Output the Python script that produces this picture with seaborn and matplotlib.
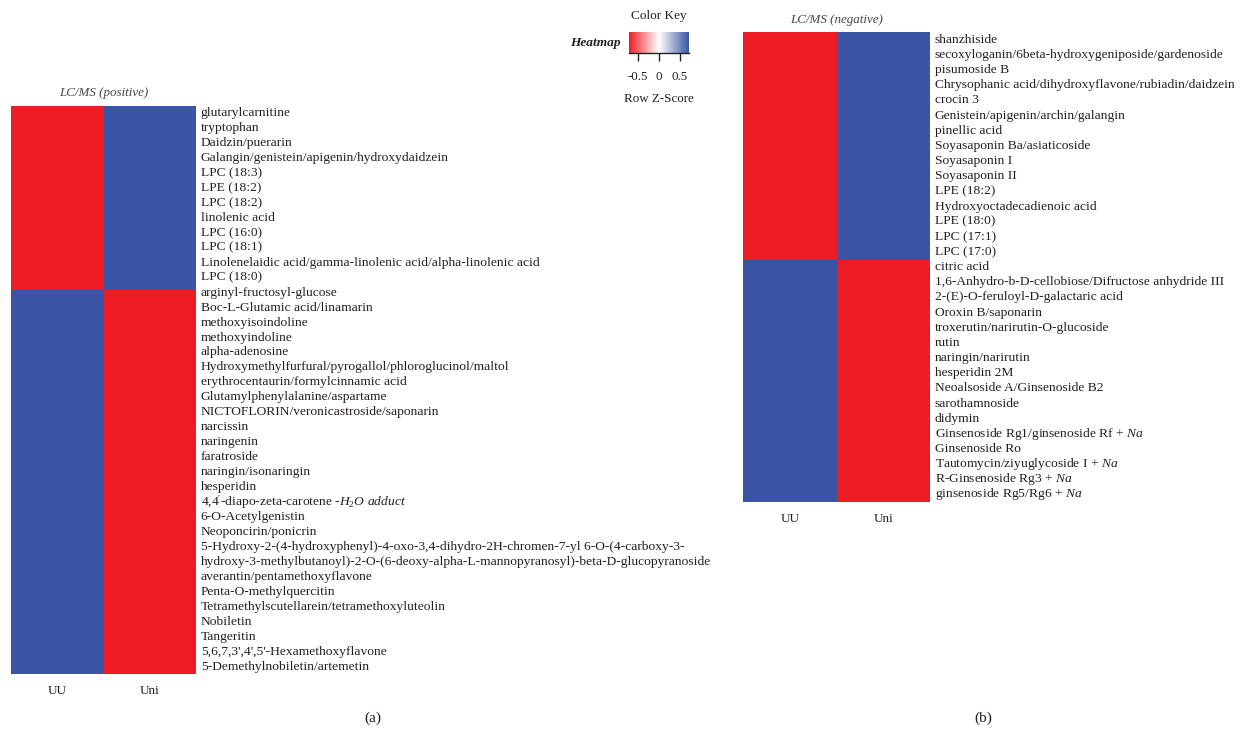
import numpy as np
import pandas as pd
import matplotlib
matplotlib.use("Agg")
import matplotlib.pyplot as plt
import seaborn as sns
from matplotlib.colors import LinearSegmentedColormap

sns.set_theme(style="white")
plt.rcParams["font.family"] = ["Liberation Serif", "DejaVu Serif"]
plt.rcParams["mathtext.fontset"] = "custom"
plt.rcParams["mathtext.rm"] = "Liberation Serif"
plt.rcParams["mathtext.it"] = "Liberation Serif:italic"
plt.rcParams["axes.unicode_minus"] = False

# ---- data: row z-scores per metabolite (UU vs Uni) ----
groups = ["UU", "Uni"]

pos_names = [
    "glutarylcarnitine", "tryptophan", "Daidzin/puerarin",
    "Galangin/genistein/apigenin/hydroxydaidzein", "LPC (18:3)", "LPE (18:2)",
    "LPC (18:2)", "linolenic acid", "LPC (16:0)", "LPC (18:1)",
    "Linolenelaidic acid/gamma-linolenic acid/alpha-linolenic acid", "LPC (18:0)",
    "arginyl-fructosyl-glucose", "Boc-L-Glutamic acid/linamarin",
    "methoxyisoindoline", "methoxyindoline", "alpha-adenosine",
    "Hydroxymethylfurfural/pyrogallol/phloroglucinol/maltol",
    "erythrocentaurin/formylcinnamic acid", "Glutamylphenylalanine/aspartame",
    "NICTOFLORIN/veronicastroside/saponarin", "narcissin", "naringenin",
    "faratroside", "naringin/isonaringin", "hesperidin",
    r"4,4$^{\prime}$-diapo-zeta-carotene -$H_2O$ $\mathit{adduct}$",
    "6-O-Acetylgenistin", "Neoponcirin/ponicrin",
    "5-Hydroxy-2-(4-hydroxyphenyl)-4-oxo-3,4-dihydro-2H-chromen-7-yl 6-O-(4-carboxy-3-\n"
    "hydroxy-3-methylbutanoyl)-2-O-(6-deoxy-alpha-L-mannopyranosyl)-beta-D-glucopyranoside",
    "averantin/pentamethoxyflavone", "Penta-O-methylquercitin",
    "Tetramethylscutellarein/tetramethoxyluteolin", "Nobiletin", "Tangeritin",
    "5,6,7,3',4',5'-Hexamethoxyflavone", "5-Demethylnobiletin/artemetin",
]
pos_uu = [-0.71, -0.71, -0.71, -0.71, -0.71, -0.71, -0.71, -0.71, -0.71, -0.71,
          -0.71, -0.71,
          0.71, 0.71, 0.71, 0.71, 0.71, 0.71, 0.71, 0.71, 0.71, 0.71,
          0.71, 0.71, 0.71, 0.71, 0.71, 0.71, 0.71, 0.71, 0.71, 0.71,
          0.71, 0.71, 0.71, 0.71, 0.71]
pos_uni = [0.71, 0.71, 0.71, 0.71, 0.71, 0.71, 0.71, 0.71, 0.71, 0.71,
           0.71, 0.71,
           -0.71, -0.71, -0.71, -0.71, -0.71, -0.71, -0.71, -0.71, -0.71, -0.71,
           -0.71, -0.71, -0.71, -0.71, -0.71, -0.71, -0.71, -0.71, -0.71, -0.71,
           -0.71, -0.71, -0.71, -0.71, -0.71]

neg_names = [
    "shanzhiside", "secoxyloganin/6beta-hydroxygeniposide/gardenoside",
    "pisumoside B", "Chrysophanic acid/dihydroxyflavone/rubiadin/daidzein",
    "crocin 3", "Genistein/apigenin/archin/galangin", "pinellic acid",
    "Soyasaponin Ba/asiaticoside", "Soyasaponin I", "Soyasaponin II",
    "LPE (18:2)", "Hydroxyoctadecadienoic acid", "LPE (18:0)", "LPC (17:1)",
    "LPC (17:0)", "citric acid",
    "1,6-Anhydro-b-D-cellobiose/Difructose anhydride III",
    "2-(E)-O-feruloyl-D-galactaric acid", "Oroxin B/saponarin",
    "troxerutin/narirutin-O-glucoside", "rutin", "naringin/narirutin",
    "hesperidin 2M", "Neoalsoside A/Ginsenoside B2", "sarothamnoside", "didymin",
    r"Ginsenoside Rg1/ginsenoside Rf + $\mathit{Na}$", "Ginsenoside Ro",
    r"Tautomycin/ziyuglycoside I + $\mathit{Na}$",
    r"R-Ginsenoside Rg3 + $\mathit{Na}$",
    r"ginsenoside Rg5/Rg6 + $\mathit{Na}$",
]
neg_uu = [-0.71, -0.71, -0.71, -0.71, -0.71, -0.71, -0.71, -0.71, -0.71, -0.71,
          -0.71, -0.71, -0.71, -0.71, -0.71,
          0.71, 0.71, 0.71, 0.71, 0.71, 0.71, 0.71, 0.71, 0.71, 0.71,
          0.71, 0.71, 0.71, 0.71, 0.71, 0.71]
neg_uni = [0.71, 0.71, 0.71, 0.71, 0.71, 0.71, 0.71, 0.71, 0.71, 0.71,
           0.71, 0.71, 0.71, 0.71, 0.71,
           -0.71, -0.71, -0.71, -0.71, -0.71, -0.71, -0.71, -0.71, -0.71, -0.71,
           -0.71, -0.71, -0.71, -0.71, -0.71, -0.71]

key_ticks = [-0.5, 0, 0.5]

# ---- styling ----
TEXT = "#231F20"
cmap = LinearSegmentedColormap.from_list("rwb", ["#ED1C24", "#FFFFFF", "#3953A4"])
VMIN, VMAX = -0.71, 0.72
LABEL_FS = 9.7

W, H = 1247, 733
fig = plt.figure(figsize=(W / 100, H / 100), dpi=100)


def px_axes(x0, y0, x1, y1):
    return fig.add_axes([x0 / W, 1 - y1 / H, (x1 - x0) / W, (y1 - y0) / H])


def draw_panel(ax, names, uu, uni, title):
    df = pd.DataFrame({groups[0]: uu, groups[1]: uni}, index=names)
    sns.heatmap(df, ax=ax, cmap=cmap, vmin=VMIN, vmax=VMAX, cbar=False,
                xticklabels=True, yticklabels=False)
    # place row labels line by line (a wrapped name takes two lines)
    nrows = len(names)
    nlines = [n.count("\n") + 1 for n in names]
    total = sum(nlines)
    pitch = nrows / total
    pos, start = [], 0
    for k in nlines:
        pos.append((start + k / 2) * pitch)
        start += k
    ax.yaxis.tick_right()
    ax.set_yticks(pos)
    ax.set_yticklabels(names, fontsize=LABEL_FS, color=TEXT, linespacing=1.3,
                       rotation=0, va="center", ha="left")
    ax.tick_params(axis="y", length=0, pad=3.5)
    ax.tick_params(axis="x", length=0, pad=8, labelsize=9.5, labelcolor=TEXT)
    ax.set_xticklabels(groups, rotation=0)
    ax.set_xlabel("")
    ax.set_ylabel("")
    ax.set_title(title, fontsize=9.4, style="italic", color="#444444", pad=7)


ax_pos = px_axes(11, 105.7, 196, 674)
draw_panel(ax_pos, pos_names, pos_uu, pos_uni, "LC/MS (positive)")

ax_neg = px_axes(743, 32.3, 930, 502)
draw_panel(ax_neg, neg_names, neg_uu, neg_uni, "LC/MS (negative)")

# ---- color key ----
cax = px_axes(628.7, 32, 689.3, 53.3)
cb = fig.colorbar(ax_pos.collections[0], cax=cax, orientation="horizontal")
cb.outline.set_visible(False)
cax.spines["bottom"].set_visible(True)
cax.spines["bottom"].set_color("#222222")
cax.spines["bottom"].set_linewidth(1.0)
cb.set_ticks(key_ticks)
cb.set_ticklabels(["-0.5", "0", "0.5"])
cax.tick_params(axis="x", length=6, width=1.0, color="#222222", pad=7,
                labelsize=9.3, labelcolor=TEXT, direction="out")

fig.text(658.5 / W, 1 - 16 / H, "Color Key", ha="center", va="center",
         fontsize=9.5, color=TEXT)
fig.text(621 / W, 1 - 43 / H, "Heatmap", ha="right", va="center",
         fontsize=9.6, color=TEXT, style="italic", weight="bold")
fig.text(658.5 / W, 1 - 99 / H, "Row Z-Score", ha="center", va="center",
         fontsize=9.4, color=TEXT)

# ---- panel letters ----
fig.text(373 / W, 1 - 718 / H, "(a)", ha="center", va="center", fontsize=11, color=TEXT)
fig.text(983 / W, 1 - 718 / H, "(b)", ha="center", va="center", fontsize=11, color=TEXT)

fig.savefig("out.png", dpi=100)
